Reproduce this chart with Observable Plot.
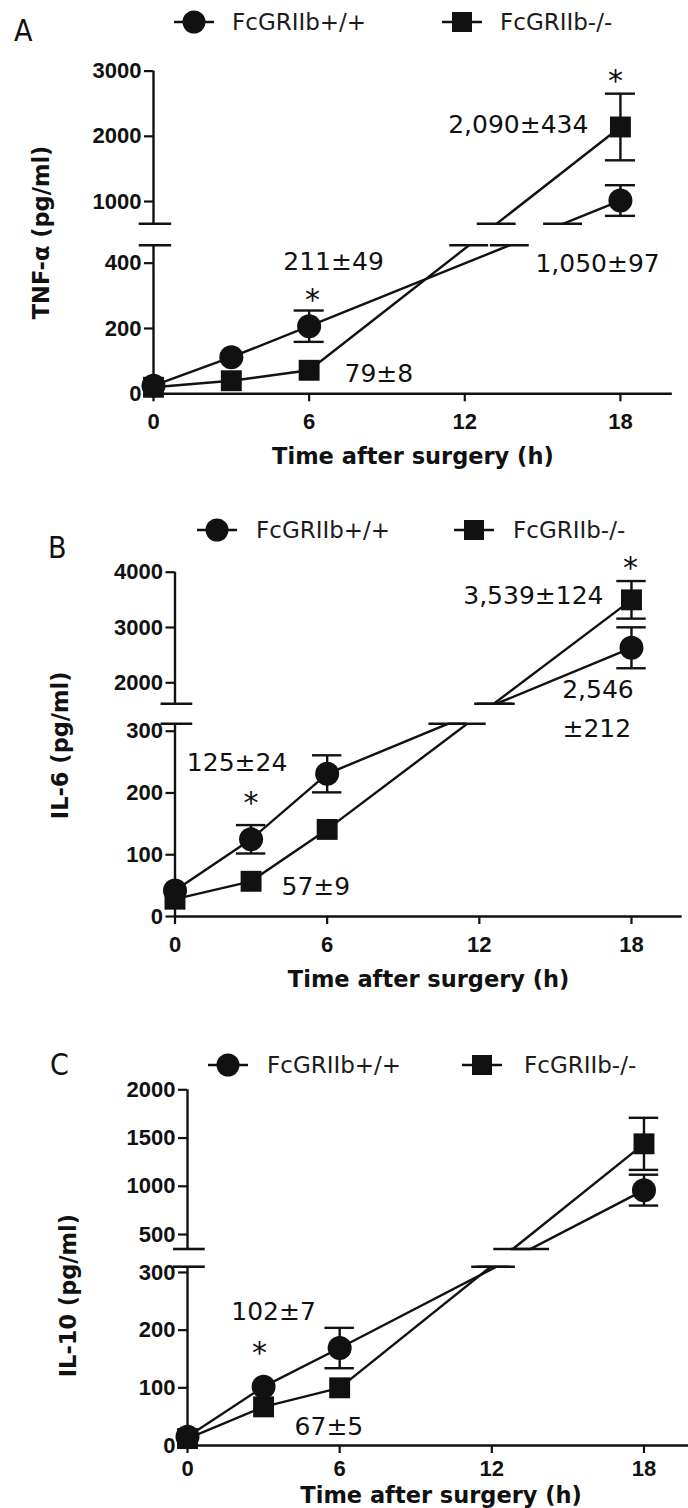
<!DOCTYPE html>
<html>
<head>
<meta charset="utf-8">
<script src="https://cdn.jsdelivr.net/npm/d3@7"></script>
<script src="https://cdn.jsdelivr.net/npm/@observablehq/plot@0.6"></script>
<style>
  html, body { margin: 0; padding: 0; background: #fff; }
  body { width: 688px; height: 1508px; position: relative; overflow: hidden; }
  .letter { position: absolute; font-family: "Liberation Sans Narrow", "DejaVu Sans Condensed", sans-serif; font-size: 30px; line-height: 1; color: #111; }
  .legtext { position: absolute; font-family: "DejaVu Sans", sans-serif; font-size: 23px; line-height: 26px; height: 26px; color: #1c1c1c; white-space: nowrap; }
  .swatch { position: absolute; width: 40px; height: 26px; }
  .plotbox { position: absolute; left: 0; width: 700px; }
</style>
</head>
<body>
<script>
// ---------------- data ----------------
const hours = [0, 3, 6, 18];
const xTicks = [0, 6, 12, 18];
const xDomain = [0, 20];
const groups = ["FcGRIIb+/+", "FcGRIIb-/-"];
const xTitle = "Time after surgery (h)";

// Panel A – TNF-α
const tnfWT = [25, 112, 207, 1015];
const tnfWTErr = [0, 0, 48, 235];
const tnfKO = [20, 40, 72, 2143];
const tnfKOErr = [0, 0, 0, 511];
const tnfTicks = [0, 200, 400, 1000, 2000, 3000];
const tnfBreak = [455, 660];
const tnfTop = 3000;
const tnfTitle = "TNF-α (pg/ml)";
const tnfNotes = ["*", "2,090±434", "1,050±97", "211±49", "*", "79±8"];

// Panel B – IL-6
const il6WT = [42, 125, 231, 2633];
const il6WTErr = [0, 23, 30, 370];
const il6KO = [28, 57, 141, 3500];
const il6KOErr = [0, 0, 0, 340];
const il6Ticks = [0, 100, 200, 300, 2000, 3000, 4000];
const il6Break = [312, 1620];
const il6Top = 4000;
const il6Title = "IL-6 (pg/ml)";
const il6Notes = ["*", "3,539±124", "2,546", "±212", "125±24", "*", "57±9"];

// Panel C – IL-10
const il10WT = [15, 102, 169, 960];
const il10WTErr = [0, 0, 35, 160];
const il10KO = [12, 67, 100, 1440];
const il10KOErr = [0, 0, 0, 270];
const il10Ticks = [0, 100, 200, 300, 500, 1000, 1500, 2000];
const il10Break = [310, 350];
const il10Top = 2000;
const il10Title = "IL-10 (pg/ml)";
const il10Notes = ["102±7", "*", "67±5"];

// ---------------- layout ----------------
const INK = "#111";
const FONT_TICK = "'Liberation Sans', Arial, sans-serif";
const FONT_TEXT = "'DejaVu Sans', sans-serif";

const layoutA = {
  letter: "A", letterX: 14, letterY: 16,
  legendY: 22, swatchX: [194, 462], textX: [232, 500],
  top: 48, width: 688, height: 430, left: 153, right: 671.8,
  yRange: [345.3, 196.7, 175.2, 22.6],
  yTitleDx: -112, yTitleDy: 0, xPad: 12, xTitleDy: 63,
  notes: [
    {s: 1, i: 3, dx: -5, dy: -45.5},
    {s: 1, i: 3, dx: -32, dy: -1.5, anchor: "end"},
    {s: 0, i: 3, dx: -85, dy: 63.3, anchor: "start"},
    {s: 0, i: 2, dx: 24.4, dy: -64},
    {s: 0, i: 2, dx: 3.4, dy: -26},
    {s: 1, i: 2, dx: 35.4, dy: 4, anchor: "start"}
  ]
};
const layoutB = {
  letter: "B", letterX: 48, letterY: 533,
  legendY: 530, swatchX: [217, 474], textX: [256, 513],
  top: 552, width: 688, height: 450, left: 174.5, right: 681.7,
  yRange: [364, 171.3, 151.3, 19.7],
  yTitleDx: -114.5, yTitleDy: 1, xPad: 12, xTitleDy: 63,
  notes: [
    {s: 1, i: 3, dx: -1, dy: -31.3},
    {s: 1, i: 3, dx: -28, dy: -4, anchor: "end"},
    {s: 0, i: 3, dx: -69.3, dy: 42.7, anchor: "start"},
    {s: 0, i: 3, dx: -69, dy: 81, anchor: "start"},
    {s: 0, i: 1, dx: -14, dy: -75.8},
    {s: 0, i: 1, dx: 0, dy: -35.8},
    {s: 1, i: 1, dx: 30.4, dy: 6, anchor: "start"}
  ]
};
const layoutC = {
  letter: "C", letterX: 50, letterY: 1050,
  legendY: 1065, swatchX: [228, 482], textX: [267, 524],
  top: 1075, width: 695, height: 433, left: 187, right: 694.2,
  yRange: [370, 191.2, 173.5, 14.3],
  yTitleDx: -119, yTitleDy: 28, xPad: 6.5, xTitleDy: 50,
  notes: [
    {s: 0, i: 1, dx: 10, dy: -75},
    {s: 0, i: 1, dx: -4, dy: -33.5},
    {s: 1, i: 1, dx: 31, dy: 20.4, anchor: "start"}
  ]
};

const panels = [
  [{wt: tnfWT, wtErr: tnfWTErr, ko: tnfKO, koErr: tnfKOErr, ticks: tnfTicks, brk: tnfBreak, top: tnfTop, title: tnfTitle, notes: tnfNotes}, layoutA],
  [{wt: il6WT, wtErr: il6WTErr, ko: il6KO, koErr: il6KOErr, ticks: il6Ticks, brk: il6Break, top: il6Top, title: il6Title, notes: il6Notes}, layoutB],
  [{wt: il10WT, wtErr: il10WTErr, ko: il10KO, koErr: il10KOErr, ticks: il10Ticks, brk: il10Break, top: il10Top, title: il10Title, notes: il10Notes}, layoutC]
];

function swatch(kind) {
  const m = kind === 0
    ? `<circle cx="20" cy="13" r="11.5" fill="${INK}"/>`
    : `<rect x="10" y="3" width="20" height="20" fill="${INK}"/>`;
  return `<svg width="40" height="26" viewBox="0 0 40 26"><line x1="0" y1="13" x2="40" y2="13" stroke="${INK}" stroke-width="2.5"/>${m}</svg>`;
}

function header(L) {
  const letter = document.createElement("div");
  letter.className = "letter";
  letter.style.left = L.letterX + "px";
  letter.style.top = L.letterY + "px";
  letter.textContent = L.letter;
  document.body.appendChild(letter);
  groups.forEach((g, k) => {
    const sw = document.createElement("div");
    sw.className = "swatch";
    sw.style.left = (L.swatchX[k] - 20) + "px";
    sw.style.top = (L.legendY - 13) + "px";
    sw.innerHTML = swatch(k);
    document.body.appendChild(sw);
    const t = document.createElement("div");
    t.className = "legtext";
    t.style.left = L.textX[k] + "px";
    t.style.top = (L.legendY - 13) + "px";
    t.textContent = g;
    document.body.appendChild(t);
  });
}

function buildPanel(d, L) {
  const series = [d.wt, d.ko];
  const errs = [d.wtErr, d.koErr];
  const rows = [];
  series.forEach((vals, s) => vals.forEach((v, i) => rows.push({s, h: hours[i], v, e: errs[s][i]})));
  const yDomain = [0, d.brk[0], d.brk[1], d.top];
  const yPix = d3.scaleLinear(yDomain, L.yRange);

  // where each line crosses the two edges of the axis break
  const crossings = [];
  series.forEach((vals) => {
    for (let i = 0; i + 1 < vals.length; i++) {
      const a = vals[i], b = vals[i + 1];
      if (a < d.brk[0] && b > d.brk[1]) {
        for (const edge of d.brk) {
          const t = (yPix(edge) - yPix(a)) / (yPix(b) - yPix(a));
          crossings.push({h: hours[i] + t * (hours[i + 1] - hours[i]), y: edge});
        }
      }
    }
  });
  const bars = rows.filter(r => r.e > 0);
  const caps = bars.flatMap(r => [{h: r.h, y: r.v - r.e}, {h: r.h, y: r.v + r.e}]);
  const axisSegs = [[0, d.brk[0]], [d.brk[1], d.top]];

  const noteMarks = L.notes.map((n, k) => {
    const r = rows.find(q => q.s === n.s && q.h === hours[n.i]);
    const star = d.notes[k] === "*";
    return Plot.text([r], {
      x: "h", y: "v", text: () => d.notes[k], dx: n.dx, dy: n.dy,
      textAnchor: n.anchor || "middle", lineAnchor: "middle", fontSize: star ? 30 : 25,
      fontFamily: FONT_TEXT, fill: INK
    });
  });

  return Plot.plot({
    width: L.width, height: L.height,
    marginTop: L.yRange[3], marginBottom: L.height - L.yRange[0],
    marginLeft: L.left, marginRight: L.width - L.right,
    x: {domain: xDomain, range: [L.left, L.right]},
    y: {type: "linear", domain: yDomain, range: L.yRange},
    style: {background: "transparent", overflow: "visible", color: INK},
    marks: [
      Plot.line(rows, {x: "h", y: "v", z: "s", stroke: INK, strokeWidth: 2.4}),
      Plot.rect([d.brk], {x1: xDomain[0], x2: xDomain[1], y1: b => b[0], y2: b => b[1], fill: "white"}),
      Plot.ruleX(axisSegs, {x: 0, y1: s => s[0], y2: s => s[1], stroke: INK, strokeWidth: 2.4}),
      Plot.ruleY([0], {x1: xDomain[0], x2: xDomain[1], stroke: INK, strokeWidth: 2.4}),
      Plot.ruleY(d.brk, {x1: -0.55, x2: 0.7, stroke: INK, strokeWidth: 2.6}),
      Plot.ruleY(crossings, {y: "y", x1: c => c.h - 0.75, x2: c => c.h + 0.75, stroke: INK, strokeWidth: 2.6}),
      Plot.ruleX(bars, {x: "h", y1: r => r.v - r.e, y2: r => r.v + r.e, stroke: INK, strokeWidth: 2.4}),
      Plot.ruleY(caps, {y: "y", x1: c => c.h - 0.58, x2: c => c.h + 0.58, stroke: INK, strokeWidth: 2.4}),
      Plot.dot(rows.filter(r => r.s === 1), {x: "h", y: "v", symbol: "square", r: 11.8, fill: INK, stroke: null}),
      Plot.dot(rows.filter(r => r.s === 0), {x: "h", y: "v", symbol: "circle", r: 12, fill: INK, stroke: null}),
      Plot.axisY(d.ticks, {anchor: "left", tickSize: 9, tickPadding: 3, tickFormat: v => String(v),
        fontSize: 22, fontWeight: "bold", fontFamily: FONT_TICK, strokeWidth: 2.2, label: null, fill: INK, stroke: INK}),
      Plot.axisX(xTicks, {anchor: "bottom", tickSize: 8, tickPadding: L.xPad, tickFormat: v => String(v),
        fontSize: 22, fontWeight: "bold", fontFamily: FONT_TICK, strokeWidth: 2.2, label: null, fill: INK, stroke: INK}),
      Plot.text([d.title], {text: t => t, frameAnchor: "left", rotate: -90, dx: L.yTitleDx, dy: L.yTitleDy,
        textAnchor: "middle", lineAnchor: "middle",
        fontSize: 22.5, fontWeight: "bold", fontFamily: FONT_TEXT, fill: INK}),
      Plot.text([xTitle], {text: t => t, frameAnchor: "bottom", dy: L.xTitleDy,
        textAnchor: "middle", lineAnchor: "middle",
        fontSize: 22.5, fontWeight: "bold", fontFamily: FONT_TEXT, fill: INK}),
      ...noteMarks
    ]
  });
}

for (const [d, L] of panels) {
  header(L);
  const box = document.createElement("div");
  box.className = "plotbox";
  box.style.top = L.top + "px";
  box.appendChild(buildPanel(d, L));
  document.body.appendChild(box);
}
</script>
</body>
</html>
